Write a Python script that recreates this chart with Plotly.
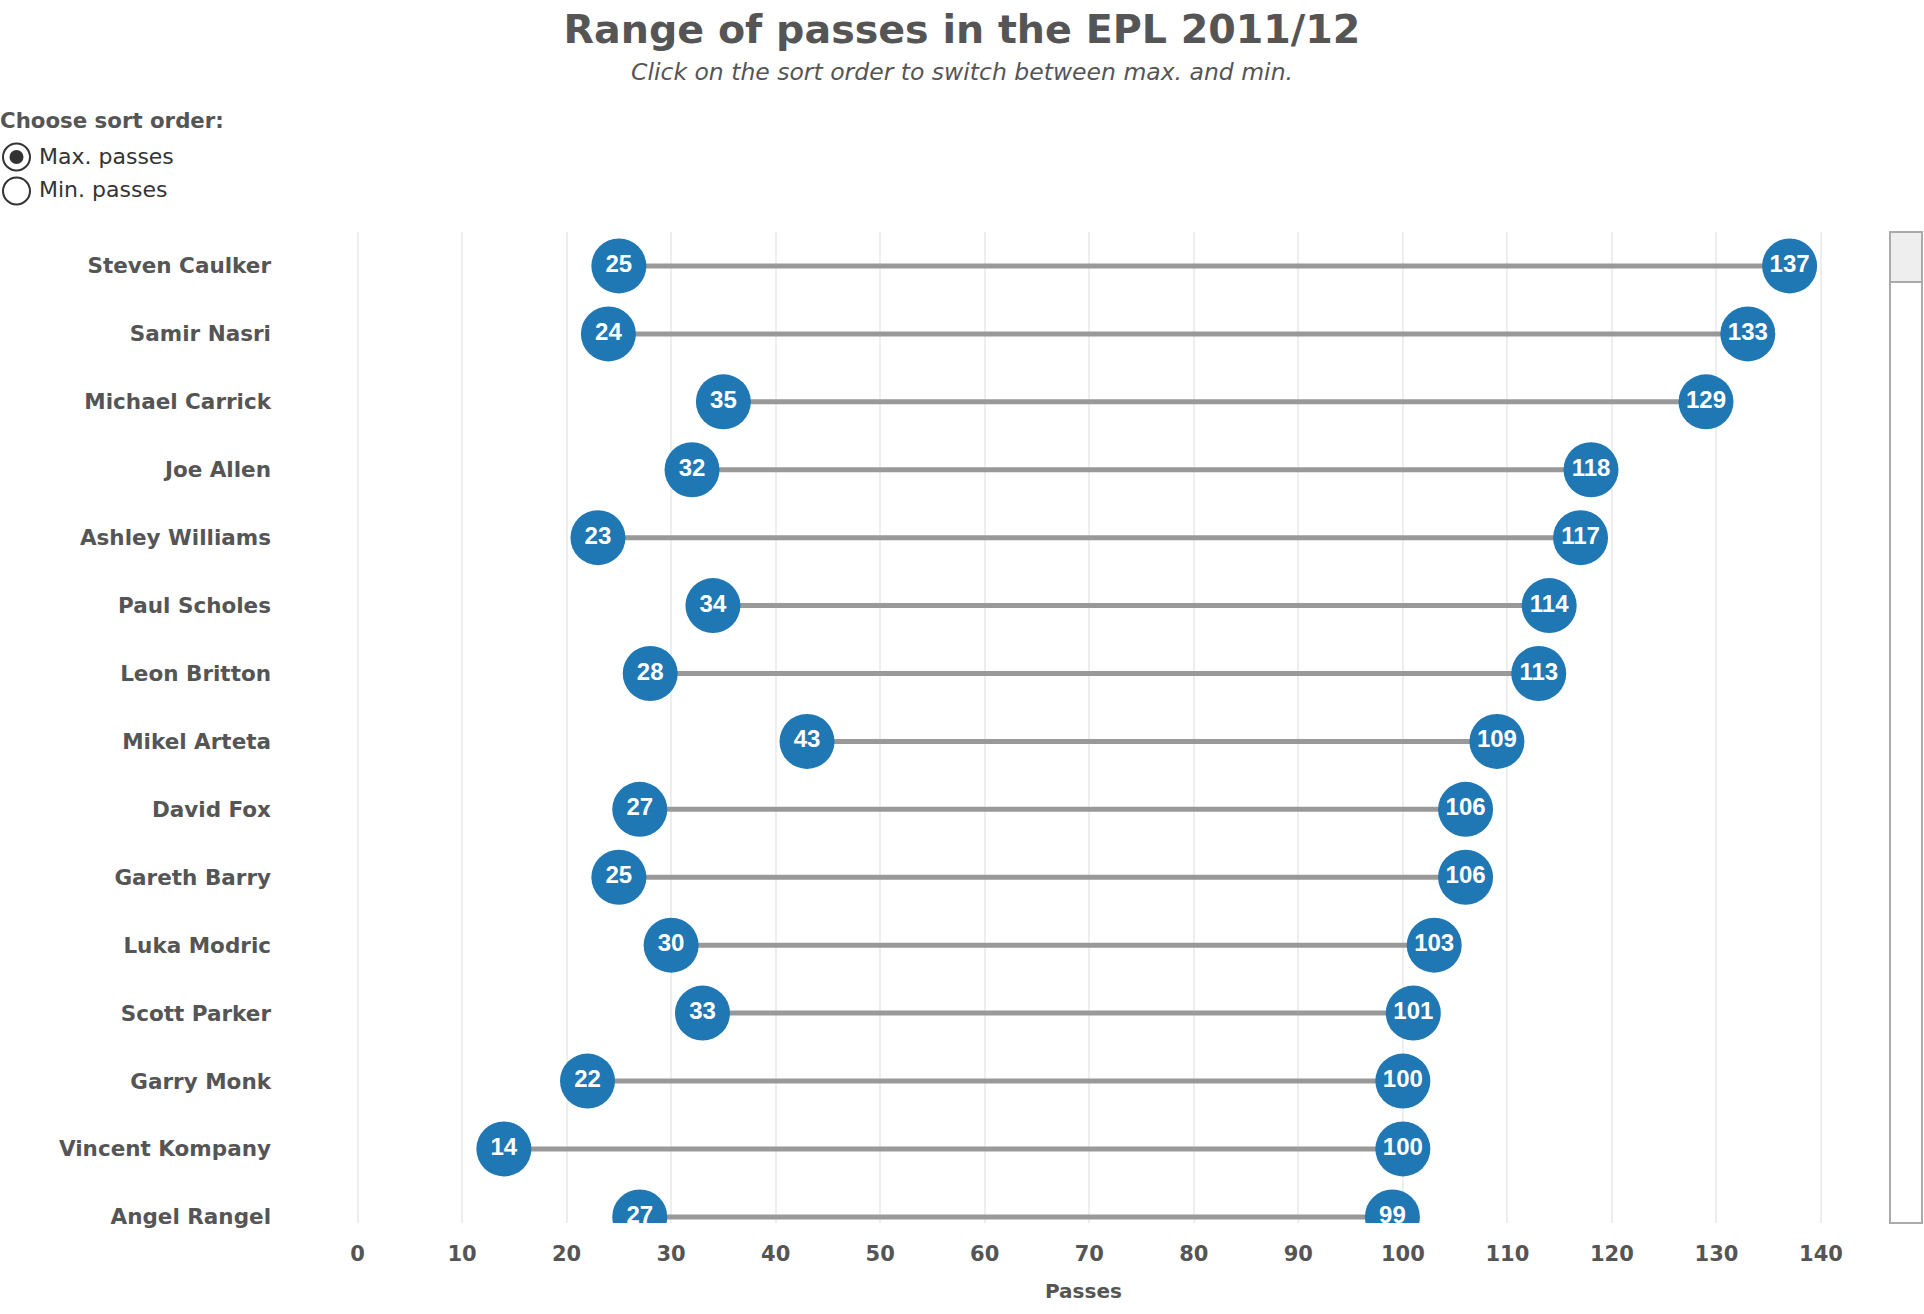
import plotly.graph_objects as go

# ---- data ----
players = ["Steven Caulker", "Samir Nasri", "Michael Carrick", "Joe Allen", "Ashley Williams",
           "Paul Scholes", "Leon Britton", "Mikel Arteta", "David Fox", "Gareth Barry",
           "Luka Modric", "Scott Parker", "Garry Monk", "Vincent Kompany", "Angel Rangel"]
min_passes = [25, 24, 35, 32, 23, 34, 28, 43, 27, 25, 30, 33, 22, 14, 27]
max_passes = [137, 133, 129, 118, 117, 114, 113, 109, 106, 106, 103, 101, 100, 100, 99]
x_ticks = [0, 10, 20, 30, 40, 50, 60, 70, 80, 90, 100, 110, 120, 130, 140]

# ---- layout constants ----
W, H = 1924, 1314
ML, MR, MT, MB = 272, 49, 232, 91
PW, PH = W - ML - MR, H - MT - MB
FONT = "DejaVu Sans"
TXT = "#555555"
BLUE = "#1f77b4"


def px(x):
    return (x - ML) / PW


def py(y):
    return (H - MB - y) / PH


rows = list(range(len(players)))

line_x, line_y = [], []
for i, (a, b) in enumerate(zip(min_passes, max_passes)):
    line_x += [a, b, None]
    line_y += [i, i, None]

fig = go.Figure()
fig.add_trace(go.Scatter(x=line_x, y=line_y, mode="lines",
                         line=dict(color="#999999", width=5),
                         hoverinfo="skip", showlegend=False))
for vals, name in ((min_passes, "Min. passes"), (max_passes, "Max. passes")):
    fig.add_trace(go.Scatter(
        x=vals, y=rows, mode="markers+text", name=name,
        text=[str(v) for v in vals], textposition="middle center",
        textfont=dict(family="Liberation Sans", size=24, color="white", weight="bold"),
        marker=dict(size=55, color=BLUE, line=dict(width=0)),
        showlegend=False, cliponaxis=True,
        customdata=players,
        hovertemplate="%{customdata}: %{x}<extra>" + name + "</extra>"))

shapes = []
# scrollbar decoration
shapes.append(dict(type="rect", xref="paper", yref="paper",
                   x0=px(1890), x1=px(1922), y0=py(1223), y1=py(232),
                   line=dict(color="#aaaaaa", width=2), fillcolor="white", layer="above"))
shapes.append(dict(type="rect", xref="paper", yref="paper",
                   x0=px(1890), x1=px(1922), y0=py(282), y1=py(232),
                   line=dict(color="#aaaaaa", width=2), fillcolor="#eeeeee", layer="above"))
# radio buttons
for cy, checked in ((157, True), (191, False)):
    shapes.append(dict(type="circle", xref="paper", yref="paper",
                       x0=px(3), x1=px(30), y0=py(cy + 13.5), y1=py(cy - 13.5),
                       line=dict(color="#333333", width=2), fillcolor="white"))
    if checked:
        shapes.append(dict(type="circle", xref="paper", yref="paper",
                           x0=px(9.5), x1=px(23.5), y0=py(cy + 7), y1=py(cy - 7),
                           line=dict(color="#333333", width=0), fillcolor="#333333"))

annotations = [
    dict(text="<i>Click on the sort order to switch between max. and min.</i>",
         xref="paper", yref="paper", x=px(962), y=py(72), xanchor="center", yanchor="middle",
         showarrow=False, font=dict(family=FONT, size=23.5, color=TXT)),
    dict(text="<b>Choose sort order:</b>", xref="paper", yref="paper", x=px(-2), y=py(121),
         xanchor="left", yanchor="middle", showarrow=False,
         font=dict(family=FONT, size=21.3, color=TXT)),
    dict(text="Max. passes", xref="paper", yref="paper", x=px(37), y=py(156),
         xanchor="left", yanchor="middle", showarrow=False,
         font=dict(family=FONT, size=22, color="#333333")),
    dict(text="Min. passes", xref="paper", yref="paper", x=px(37), y=py(189),
         xanchor="left", yanchor="middle", showarrow=False,
         font=dict(family=FONT, size=22, color="#333333")),
    dict(text="<b>Passes</b>", xref="paper", yref="paper", x=px(1083), y=py(1291),
         xanchor="center", yanchor="middle", showarrow=False,
         font=dict(family=FONT, size=20, color=TXT)),
]

fig.update_layout(
    width=W, height=H,
    margin=dict(l=ML, r=MR, t=MT, b=MB, pad=0),
    paper_bgcolor="white", plot_bgcolor="white",
    title=dict(text="<b>Range of passes in the EPL 2011/12</b>", x=0.5, xanchor="center",
               xref="container", yref="container", y=1 - 29 / H, yanchor="middle",
               font=dict(family=FONT, size=39.6, color=TXT)),
    xaxis=dict(range=[(ML - 357.5) / 10.45, 140 + (W - MR - 1821) / 10.45],
               tickvals=x_ticks, ticktext=[str(t) for t in x_ticks],
               showgrid=True, gridcolor="#eeeeee", gridwidth=2, zeroline=False,
               showline=False, ticks="outside", ticklen=12, tickcolor="rgba(0,0,0,0)",
               tickfont=dict(family=FONT, size=21, color=TXT, weight="bold"),
               fixedrange=True),
    yaxis=dict(range=[14.09, -0.50], tickvals=rows, ticktext=players,
               showgrid=False, zeroline=False, showline=False, ticks="",
               tickfont=dict(family=FONT, size=21.5, color=TXT, weight="bold"),
               fixedrange=True),
    shapes=shapes,
    annotations=annotations,
    hoverlabel=dict(font=dict(family=FONT)),
)

fig.write_html("out.html", config={"displayModeBar": False},
               post_script="document.body.style.margin='0';")
